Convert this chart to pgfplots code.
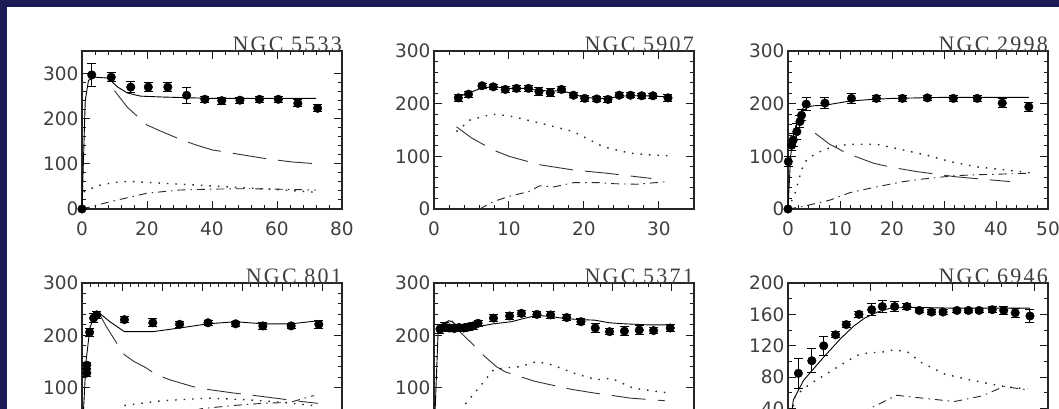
\documentclass[border=0pt]{standalone}
\usepackage{fontspec}
\setmainfont{DejaVu Sans}
\newfontfamily\ttlfont[LetterSpace=10]{Liberation Serif}
\usepackage{pgfplots}
\pgfplotsset{compat=1.18}
\definecolor{slidebg}{RGB}{28,28,86}

\pgfplotsset{
  base/.style={
    scale only axis, width=260pt, height=158pt,
    xmin=0, ymin=0, clip=false,
    tick align=inside, tick pos=both,
    major tick length=8pt, minor tick length=4pt,
    tick style={black!90, line width=1pt},
    /pgf/number format/assume math mode=true,
    axis line style={black!85, line width=1.2pt},
  },
  tlab/.style={
    xticklabel={\fontsize{18.5}{18.5}\selectfont\color{black!75}\rule{0pt}{23pt}\pgfmathprintnumber{\tick}},
    yticklabel={\fontsize{18.5}{18.5}\selectfont\color{black!75}\pgfmathprintnumber{\tick}\hspace{6pt}}},
  lower/.style={at={(#1,-31pt)}, anchor=south west, height=157pt, xticklabels=\empty},
  upper/.style={at={(#1,200pt)}, anchor=south west},
  tot/.style={black, line width=0.9pt, no marks},
  dsk/.style={black!80, line width=0.9pt, dash pattern=on 34pt off 12pt, no marks},
  gas/.style={black!85, line width=1.4pt, dash pattern=on 1.5pt off 7pt, no marks},
  hal/.style={black!85, line width=0.9pt, dash pattern=on 8pt off 5pt on 1.5pt off 5pt, no marks},
  obs/.style={only marks, mark=*, mark size=4.3pt, black,
    error bars/.cd, y dir=both, y explicit,
    error bar style={line width=1pt, black},
    error mark options={rotate=90, mark size=4.5pt, line width=1pt, black}},
}
\newcommand\gal[1]{\node[anchor=base east, inner sep=0pt, text=black!75,
  font=\ttlfont\fontsize{22}{22}\selectfont] at ([yshift=-1pt]rel axis cs:1,1) {#1};}

\begin{document}
\begin{tikzpicture}
\useasboundingbox (0,0) rectangle (1059pt,409pt);
\clip (0,0) rectangle (1059pt,409pt);
\fill[slidebg] (0,0) rectangle (1059pt,409pt);
\fill[white] (7pt,0) rectangle (1059pt,402pt);

% NGC 5533
\begin{axis}[base, tlab, upper=82pt,
  xmax=80, ymax=350, xtick={0,20,...,80}, ytick={0,100,200,300},
  minor x tick num=4, minor y tick num=4]
  \addplot[obs] table[y error=e] {
x y e
0 0 0
3 297 25
9 292 10
15 270 12
20.4 270 10
26.4 270 10
32.2 252 18
37.8 243 6
43 240 8
48.6 241 7
54.6 243 7
60.4 243 7
66.4 234 8
72.5 223 8
};
  \addplot[tot] coordinates {(0,0) (1,240) (2,285) (4,292) (8,290) (11,270) (14,257) (18,250) (25,248) (40,245) (60,245) (72,245)};
  \addplot[dsk] coordinates {(10,262) (14,225) (20,186) (25,170) (30,155) (35,142) (40,131) (46,124) (51,118) (58,110) (65,104) (72.5,100)};
  \addplot[gas] coordinates {(0.5,38) (5,52) (10,59) (15,61) (20,59) (30,55) (40,51) (50,47) (60,43) (72,37)};
  \addplot[hal] coordinates {(0,0) (8.6,16) (20,35) (30,42) (40,44) (50,45) (60,44) (72,42)};
  \gal{NGC 5533}
\end{axis}

% NGC 5907
\begin{axis}[base, tlab, upper=434pt,
  xmax=34.67, ymax=300, xtick={0,10,20,30}, ytick={0,100,200,300},
  minor x tick num=4, minor y tick num=4]
  \addplot[obs] table[y error=e] {
x y e
3.24 211 6
4.6 218 6
6.4 234 5
7.9 232 5
9.5 227 5
11 229 5
12.6 229 5
14 223 8
15.5 221 8
17 227 5
18.6 216 5
20.1 210 5
21.7 209 5
23.2 208 5
24.7 216 5
26.2 216 5
27.7 215 5
29.2 215 5
31.2 211 6
};
  \addplot[tot] coordinates {(3,212) (4.6,220) (6.4,230) (8,232) (10,229) (12,229) (14,225) (16,224) (17,225) (18.6,218) (20,212) (22,210) (23.2,210) (24.7,214) (26,215) (28,215) (31.2,213)};
  \addplot[gas] coordinates {(3,147) (4.8,169) (7.7,180) (10,177) (12.4,169) (15,160) (18.6,147) (20.5,133) (22.6,118) (26.1,106) (28.5,103) (31.2,101)};
  \addplot[dsk] coordinates {(3,156) (5,135) (7.9,112) (10,100) (14.1,84) (18.6,74) (23,68) (26,63) (29,58)};
  \addplot[hal] coordinates {(6.1,0) (7.9,14) (10,24) (12.6,33) (14.1,44) (16,42) (18.6,50) (22,50) (24,48) (27,47) (31.2,52)};
  \gal{NGC 5907}
\end{axis}

% NGC 2998
\begin{axis}[base, tlab, upper=788pt,
  xmax=50, ymax=300, xtick={0,10,...,50}, ytick={0,100,200,300},
  minor x tick num=4, minor y tick num=4]
  \addplot[obs] table[y error=e] {
x y e
0 0 0
0.06 90 10
0.7 121 10
1 131 12
1.7 147 15
2.3 166 12
2.6 178 10
3.5 199 12
7.1 201 10
12.2 210 10
17 210 5
22 210 5
26.8 211 5
31.8 210 5
36.4 210 5
41.2 201 8
46.3 194 8
};
  \addplot[tot] coordinates {(0,0) (0.5,100) (1,140) (2,175) (3,193) (5,196) (7,197) (12,205) (16,208) (20,210) (30,212) (46.3,212)};
  \addplot[gas] coordinates {(0,0) (1.35,30) (2.6,74) (3.3,90) (5,103) (6.8,112) (9,119) (11.9,123) (17,123) (22.2,112) (26.7,102) (31.2,90) (36.3,80) (41,75) (46.5,69)};
  \addplot[dsk] coordinates {(5.2,144) (8,123) (11.3,106) (16.4,87) (20,79) (24.8,71) (32.4,61) (37,57) (42.7,52)};
  \addplot[hal] coordinates {(0,0) (3,5) (8.1,17) (11.9,31) (17,42) (22.2,52) (26,57) (31.8,63) (36,65) (40,66) (46.5,68)};
  \gal{NGC 2998}
\end{axis}

% NGC 801
\begin{axis}[base, tlab, lower=82pt,
  xmax=65, ymax=300, xtick={0,10,...,60}, ytick={100,200,300},
  minor x tick num=4, minor y tick num=4]
  \addplot[obs] table[y error=e] {
x y e
1.2 128 6
1.2 143 6
1.9 206 8
2.9 233 8
3.7 239 6
10.6 230 6
17.7 224 8
24.4 221 6
31.5 224 5
38.4 222 5
45.2 218 6
52.3 218 5
59.2 221 8
};
  \addplot[tot] coordinates {(0,0) (1,150) (2,215) (3,235) (4.4,242) (7,226) (10.6,207) (17.7,207) (24.4,214) (31.5,222) (38.4,226) (45.2,222) (52.3,222) (59.2,228)};
  \addplot[dsk] coordinates {(4.4,240) (6,218) (8.1,192) (10.6,163) (13,150) (16,138) (18.5,125) (22,115) (27.7,102) (32,96) (37.7,90) (45.2,83) (54.4,74) (59,70)};
  \addplot[gas] coordinates {(10.6,66) (20,75) (31.5,80) (41,77) (50,72) (59,65)};
  \addplot[hal] coordinates {(0,0) (10,20) (20,42) (30,60) (38,66) (45,70) (52,72) (58,85)};
  \gal{NGC 801}
\end{axis}

% NGC 5371
\begin{axis}[base, tlab, lower=434pt,
  xmax=43.7, ymax=300, xtick={0,10,...,40}, ytick={100,200,300},
  minor x tick num=4, minor y tick num=4]
  \addplot[obs] table[y error=e] {
x y e
1 212 8
1.8 216 8
2.6 214 6
3.4 213 6
4.2 215 6
5 214 6
5.8 216 6
6.6 218 6
7.4 223 6
10 233 6
12.7 237 6
14.7 242 6
17.3 240 6
19.6 239 6
22.3 234 6
24.7 226 6
27.1 214 8
29.5 207 6
32 208 8
34.5 210 8
36.9 209 6
39.7 214 6
};
  \addplot[tot] coordinates {(0,0) (0.7,210) (1.5,222) (2.5,228) (3.2,225) (4.5,212) (6,213) (8,218) (10,222) (13,226) (15,232) (17.3,238) (19.6,236) (22,232) (24.7,230) (27,229) (29.5,224) (32,222) (36,220) (39.7,220)};
  \addplot[dsk] coordinates {(3,228) (4.5,205) (6.6,182) (8.5,160) (10.5,140) (12,130) (14.5,121) (17,112) (20.6,103) (23,97) (26.8,90) (30,85) (33,80) (38.8,75)};
  \addplot[gas] coordinates {(1.5,0) (3,30) (4.9,64) (7.7,102) (10,134) (12,138) (14.5,140) (17.3,150) (20,143) (23.4,128) (27.3,115) (29.8,118) (33.5,99) (36,95) (39.4,90)};
  \addplot[hal] coordinates {(0,0) (10,20) (20,35) (30,45) (39.7,50)};
  \gal{NGC 5371}
\end{axis}

% NGC 6946
\begin{axis}[base, tlab, lower=788pt,
  xmax=31.7, ymax=200, xtick={0,10,20,30}, ytick={40,80,...,200},
  minor x tick num=4, minor y tick num=1]
  \addplot[obs] table[y error=e] {
x y e
1.27 85 19
2.9 101 15
4.35 120 12
5.8 134 4
7.1 147 4
8.65 160 4
10.2 166 8
11.5 170 8
13 170 6
14.5 170 4
16 165 3
17.5 163 3
18.9 163 3
20.6 165 3
22 165 3
23.3 165 3
24.9 166 4
26.3 165 5
27.7 162 6
29.5 158 8
};
  \addplot[tot] coordinates {(0,0) (0.65,51) (1.9,76) (4.3,105) (6.4,129) (8,145) (9.3,155) (10.9,163) (12.5,168) (15,169) (20,168) (25,168) (29.5,168)};
  \addplot[gas] coordinates {(0,0) (0.86,56) (2.5,70) (4.35,82) (6.5,96) (8.45,108) (9.8,111) (11.5,112) (13,115) (14.6,112) (16.2,99) (19.1,84) (22,77) (24.9,71) (26.5,68) (29.2,65)};
  \addplot[hal] coordinates {(0,0) (5,20) (10,40) (13.2,57) (16.7,53) (20.3,49) (23.6,56) (26.3,68) (29.2,64)};
  \gal{NGC 6946}
\end{axis}
\end{tikzpicture}
\end{document}
